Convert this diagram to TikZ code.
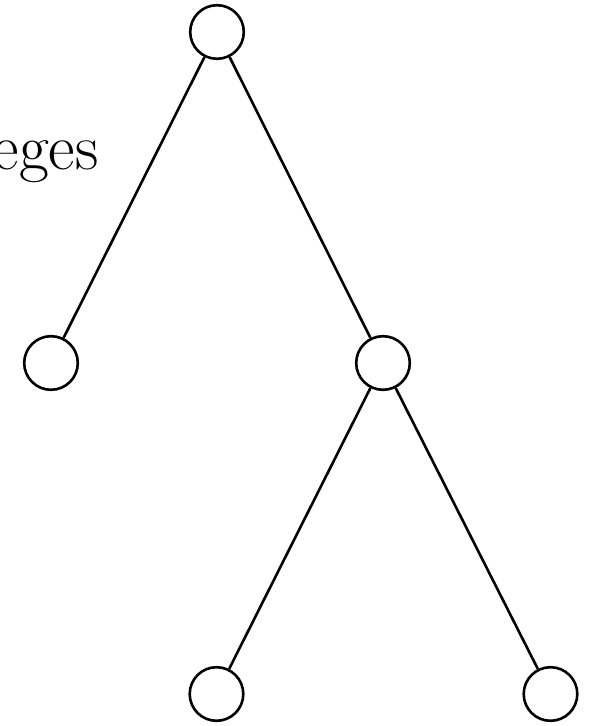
\documentclass[tikz,border=0pt]{standalone}
\usepackage{tikz}
\tikzset{vert/.style={draw,circle,minimum size=26.8pt,inner sep=0pt,line width=1.3pt},
  edge/.style={draw,line width=1.3pt},
  lab/.style={font=\fontsize{32.5}{39}\selectfont,inner sep=0pt}}

\begin{document}
\begin{tikzpicture}[x=0.5pt,y=-0.5pt]
  \useasboundingbox (0,0) rectangle (596,726);
  \node[vert] (r) at (217,32) {};
  \node[vert] (l) at (51,363) {};
  \node[vert] (m) at (383,363) {};
  \node[vert] (ml) at (216.5,694) {};
  \node[vert] (mr) at (550.5,694) {};
  \draw[edge] (r)--(l);
  \draw[edge] (r)--(m);
  \draw[edge] (m)--(ml);
  \draw[edge] (m)--(mr);
  \node[lab,anchor=base east] (txt) at (99,170) {eges};
\end{tikzpicture}
\end{document}
